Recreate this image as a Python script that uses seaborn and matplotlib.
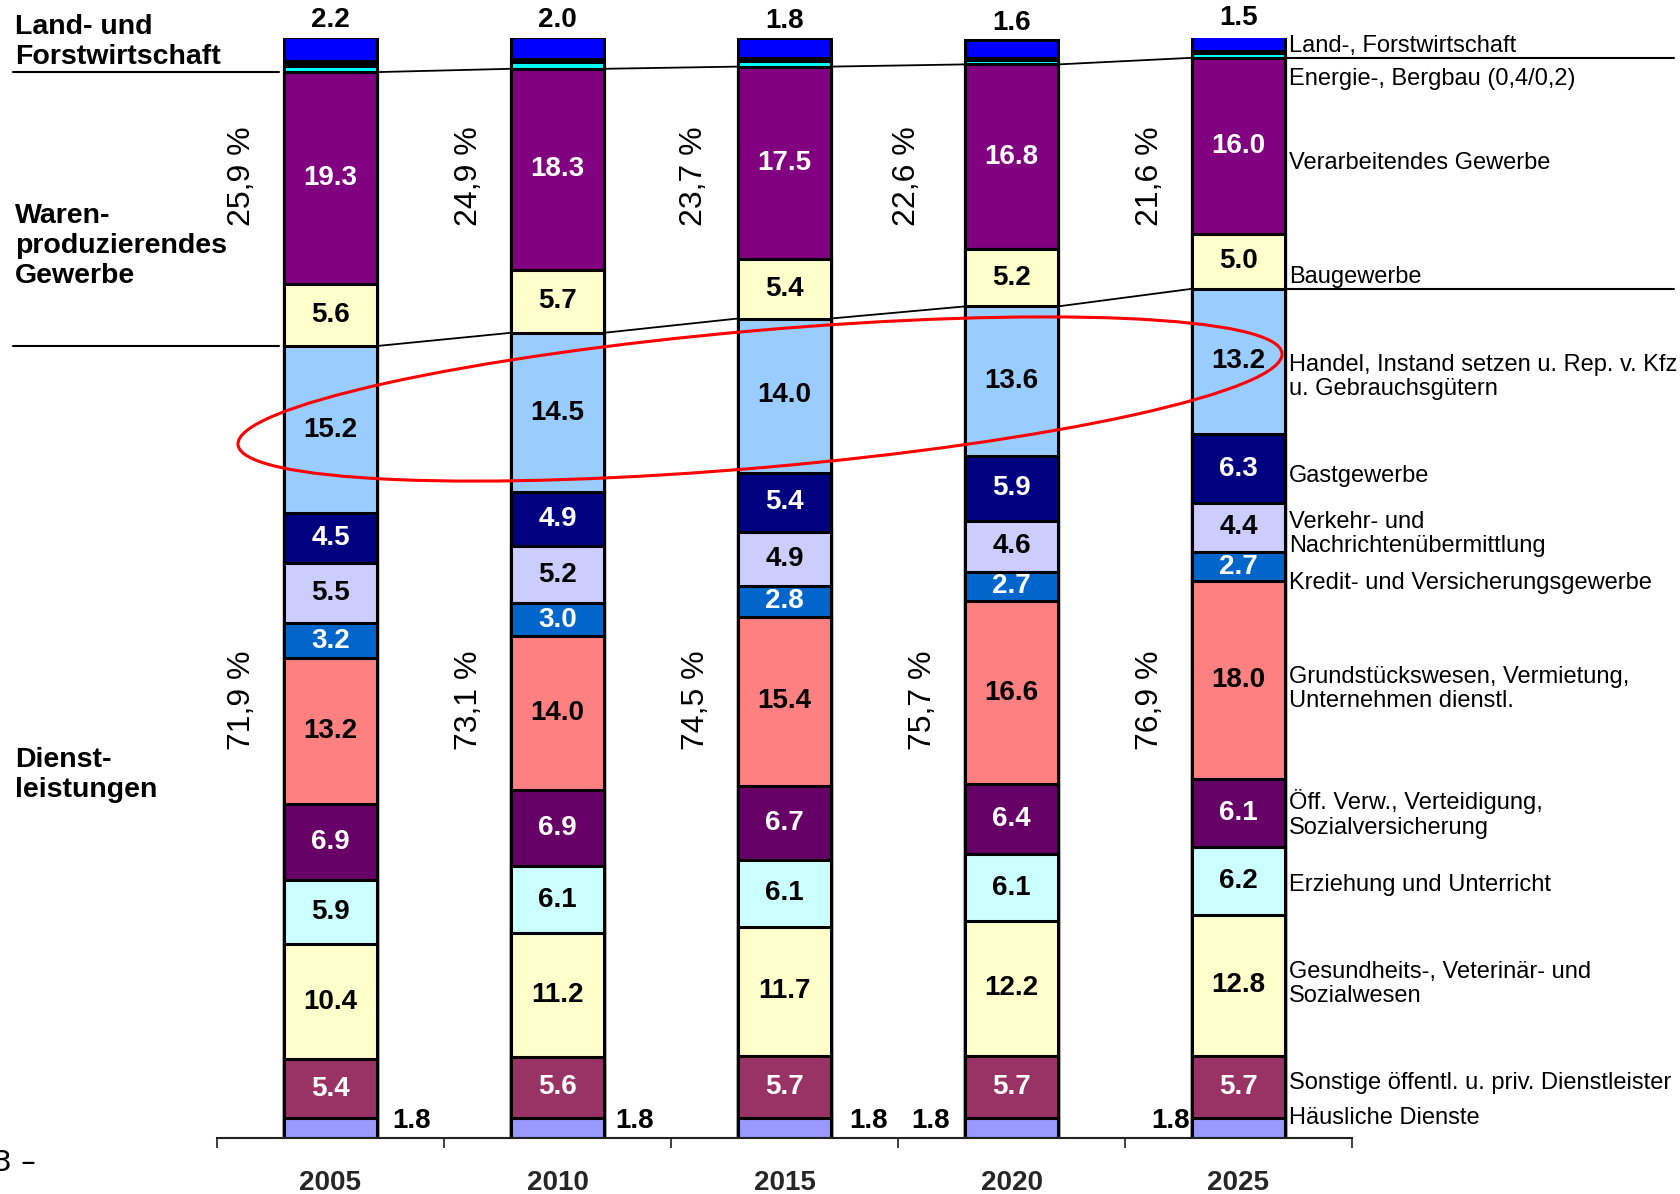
import numpy as np
import pandas as pd
import matplotlib
matplotlib.use("Agg")
import matplotlib.pyplot as plt
from matplotlib.patches import Ellipse
import seaborn as sns

# --- data (shares in %, stacked from bottom to top) ---
years = ['2005', '2010', '2015', '2020', '2025']

haeusliche = [1.8, 1.8, 1.8, 1.8, 1.8]
sonstige = [5.4, 5.6, 5.7, 5.7, 5.7]
gesundheit = [10.4, 11.2, 11.7, 12.2, 12.8]
erziehung = [5.9, 6.1, 6.1, 6.1, 6.2]
oeff_verw = [6.9, 6.9, 6.7, 6.4, 6.1]
grundstueck = [13.2, 14.0, 15.4, 16.6, 18.0]
kredit = [3.2, 3.0, 2.8, 2.7, 2.7]
verkehr = [5.5, 5.2, 4.9, 4.6, 4.4]
gastgewerbe = [4.5, 4.9, 5.4, 5.9, 6.3]
handel = [15.2, 14.5, 14.0, 13.6, 13.2]
bau = [5.6, 5.7, 5.4, 5.2, 5.0]
verarb = [19.3, 18.3, 17.5, 16.8, 16.0]
energie = [0.6, 0.6, 0.5, 0.4, 0.4]
bergbau = [0.4, 0.3, 0.3, 0.2, 0.2]
land = [2.2, 2.0, 1.8, 1.6, 1.5]

waren_total = ['25,9 %', '24,9 %', '23,7 %', '22,6 %', '21,6 %']
dienst_total = ['71,9 %', '73,1 %', '74,5 %', '75,7 %', '76,9 %']

# segment name, values, fill colour, label colour (None = no label inside)
segments = [
    ('haeusliche', haeusliche, '#9999FF', None),
    ('sonstige', sonstige, '#993366', 'white'),
    ('gesundheit', gesundheit, '#FFFFCC', 'black'),
    ('erziehung', erziehung, '#CCFFFF', 'black'),
    ('oeff_verw', oeff_verw, '#660066', 'white'),
    ('grundstueck', grundstueck, '#FF8080', 'black'),
    ('kredit', kredit, '#0066CC', 'white'),
    ('verkehr', verkehr, '#CCCCFF', 'black'),
    ('gastgewerbe', gastgewerbe, '#000080', 'white'),
    ('handel', handel, '#99CCFF', 'black'),
    ('bau', bau, '#FFFFCC', 'black'),
    ('verarb', verarb, '#800080', 'white'),
    ('energie', energie, '#00FFFF', None),
    ('bergbau', bergbau, '#000000', None),
    ('land', land, '#0000FF', None),
]

right_labels = [
    ('Land-, Forstwirtschaft', 46),
    ('Energie-, Bergbau (0,4/0,2)', 79),
    ('Verarbeitendes Gewerbe', 163),
    ('Baugewerbe', 277),
    ('Handel, Instand setzen u. Rep. v. Kfz\nu. Gebrauchsgütern', 377),
    ('Gastgewerbe', 476),
    ('Verkehr- und\nNachrichtenübermittlung', 534),
    ('Kredit- und Versicherungsgewerbe', 583),
    ('Grundstückswesen, Vermietung,\nUnternehmen dienstl.', 689),
    ('Öff. Verw., Verteidigung,\nSozialversicherung', 814),
    ('Erziehung und Unterricht', 885),
    ('Gesundheits-, Veterinär- und\nSozialwesen', 984),
    ('Sonstige öffentl. u. priv. Dienstleister', 1083),
    ('Häusliche Dienste', 1118),
]

left_labels = [
    ('Land- und\nForstwirtschaft', 42),
    ('Waren-\nproduzierendes\nGewerbe', 246),
    ('Dienst-\nleistungen', 775),
]

# --- layout ---
W_PX, H_PX = 1680, 1194
BAR_W = 0.41
haeus_offset = [0.355, 0.34, 0.37, -0.355, -0.30]
pct_offset_top = [0.39, 0.39, 0.40, 0.46, 0.39]
pct_offset_bot = [0.39, 0.39, 0.39, 0.39, 0.39]

sns.set_theme(style='white')
plt.rcParams['font.family'] = ['Liberation Sans', 'DejaVu Sans']

fig = plt.figure(figsize=(W_PX / 100, H_PX / 100), dpi=100)
ax = fig.add_axes([217 / W_PX, 1 - 1138 / H_PX, (1352 - 217) / W_PX, (1138 - 38) / H_PX])

vals = pd.DataFrame({name: v for name, v, _, _ in segments}, index=years)
cum = vals.cumsum(axis=1)
base = cum - vals

# layered bars: draw from top layer down so each lower layer overlays the one above
for name, v, col, _ in reversed(segments):
    sns.barplot(x=years, y=cum[name].values, color=col, width=BAR_W,
                edgecolor='black', linewidth=2.2, saturation=1, ax=ax)

ax.set_xlim(-0.5, 4.5)
ax.set_ylim(0, 100)
ax.set_xlabel('')
ax.set_ylabel('')
ax.set_yticks([])
for s in ['left', 'right', 'top']:
    ax.spines[s].set_visible(False)
ax.spines['bottom'].set_color('#222222')
ax.spines['bottom'].set_linewidth(1.5)

ax.set_xticks(range(len(years)))
ax.set_xticklabels(years, fontsize=20, fontweight='bold')
ax.set_xticks(np.arange(-0.5, len(years), 1), minor=True)
ax.tick_params(axis='x', which='major', length=0, pad=23)
ax.tick_params(axis='x', which='minor', length=7, width=1.2, direction='out',
               bottom=True, color='#222222')

# values inside bars
for name, v, col, tcol in segments:
    if tcol is None:
        continue
    for i, y in enumerate(years):
        mid = base.loc[y, name] + vals.loc[y, name] / 2
        ax.text(i, mid, f'{vals.loc[y, name]:.1f}', ha='center', va='center',
                fontsize=20, fontweight='bold', color=tcol)

# Land- und Forstwirtschaft above bars, Häusliche Dienste beside bars
for i, y in enumerate(years):
    ax.text(i, cum.loc[y, 'land'] + 0.35, f'{land[i]:.1f}', ha='center', va='bottom',
            fontsize=20, fontweight='bold', color='black', clip_on=False)
    ax.text(i + haeus_offset[i], 1.5, f'{haeusliche[i]:.1f}', ha='center', va='center',
            fontsize=20, fontweight='bold', color='black')

# group totals (rotated)
for i, y in enumerate(years):
    ax.text(i - pct_offset_top[i], 87.4, waren_total[i], rotation=90, ha='center',
            va='center', fontsize=23, color='black')
    ax.text(i - pct_offset_bot[i], 39.8, dienst_total[i], rotation=90, ha='center',
            va='center', fontsize=23, color='black')

# separator lines following group boundaries
top_line = cum['verarb'].values
bot_line = cum['gastgewerbe'].values + vals['handel'].values
for line in (top_line, bot_line):
    ax.plot([-1.40, -BAR_W / 2 - 0.02], [line[0], line[0]], color='black', lw=1.5,
            clip_on=False)
    for i in range(len(years) - 1):
        ax.plot([i + BAR_W / 2, i + 1 - BAR_W / 2], [line[i], line[i + 1]],
                color='black', lw=1.3, clip_on=False)
    ax.plot([4 + BAR_W / 2, 5.92], [line[-1], line[-1]], color='black', lw=1.5,
            clip_on=False)

# red emphasis ellipse around Handel
ell = Ellipse((7.60, (H_PX - 399) / 100), 10.48, 1.37, angle=5,
              transform=fig.dpi_scale_trans, fill=False, edgecolor='#FF0000', lw=2.2)
fig.add_artist(ell)

# right-hand sector labels
for txt, py in right_labels:
    fig.text(1289 / W_PX, 1 - py / H_PX, txt, ha='left', va='center', fontsize=17,
             color='black', linespacing=1.15)

# left-hand group labels
for txt, py in left_labels:
    fig.text(15 / W_PX, 1 - py / H_PX, txt, ha='left', va='center', fontsize=20.5,
             fontweight='bold', color='black', linespacing=1.2)

# caption remnant at the bottom edge
fig.text(36 / W_PX, 1 - 1163 / H_PX, 'Abb. 3 –', ha='right', va='center', fontsize=21,
         color='black', family=['DejaVu Sans'])

fig.savefig('out.png', dpi=100)
